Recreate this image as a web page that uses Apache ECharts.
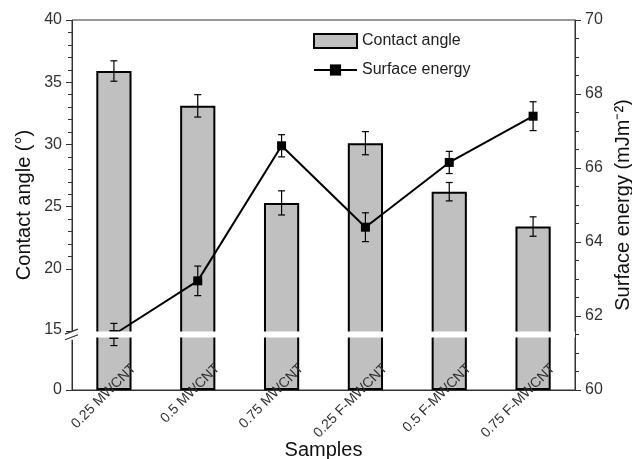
<!DOCTYPE html>
<html>
<head>
<meta charset="utf-8">
<script src="https://cdn.jsdelivr.net/npm/echarts@6/dist/echarts.min.js"></script>
<style>
  html, body { margin: 0; padding: 0; background: #fff; }
  #main { width: 632px; height: 459px; }
</style>
</head>
<body>
<div id="main"></div>
<script>
// samples on the x axis
var samples = ['0.25 MWCNT', '0.5 MWCNT', '0.75 MWCNT', '0.25 F-MWCNT', '0.5 F-MWCNT', '0.75 F-MWCNT'];
// contact angle (deg), left axis
var contactAngle = [35.9, 33.1, 25.3, 30.1, 26.2, 23.4];
var contactAngleErr = [0.82, 0.9, 0.97, 0.93, 0.74, 0.78];
// surface energy (mJ/m2), right axis
var surfaceEnergy = [61.5, 62.95, 66.6, 64.4, 66.15, 67.4];
var surfaceEnergyErr = [0.3, 0.4, 0.3, 0.39, 0.3, 0.39];
// tick labels shown on each axis
var leftTicks = [0, 15, 20, 25, 30, 35, 40];
var rightTicks = [60, 62, 64, 66, 68, 70];
// broken part of the left axis
var breakStart = 4.2, breakEnd = 15;

var FONT = '"Liberation Sans", Arial, sans-serif';
var GRID_LEFT = 72;

function errData(vals, errs) {
  return vals.map(function (v, i) { return [i, v - errs[i], v + errs[i]]; });
}

function errorBar(params, api) {
  var lo = api.coord([api.value(0), api.value(1)]);
  var hi = api.coord([api.value(0), api.value(2)]);
  var hw = 3.5;
  var st = { stroke: '#000', lineWidth: 1.2 };
  return {
    type: 'group',
    children: [
      { type: 'line', shape: { x1: lo[0], y1: lo[1], x2: hi[0], y2: hi[1] }, style: st },
      { type: 'line', shape: { x1: lo[0] - hw, y1: lo[1], x2: lo[0] + hw, y2: lo[1] }, style: st },
      { type: 'line', shape: { x1: hi[0] - hw, y1: hi[1], x2: hi[0] + hw, y2: hi[1] }, style: st }
    ]
  };
}

var myChart = echarts.init(document.getElementById('main'));

var option = {
  backgroundColor: '#fff',
  animation: false,
  textStyle: { fontFamily: FONT },
  grid: {
    left: GRID_LEFT, right: 57, top: 20, bottom: 69,
    outerBoundsMode: 'none',
    containLabel: false,
    show: true, borderColor: '#333', borderWidth: 1
  },
  legend: {
    orient: 'vertical',
    left: 313,
    top: 33,
    padding: 0,
    itemWidth: 43,
    itemHeight: 14,
    itemGap: 13,
    textStyle: { fontFamily: FONT, fontSize: 16, color: '#222' },
    data: [
      { name: 'Contact angle', icon: 'rect' },
      { name: 'Surface energy' }
    ]
  },
  xAxis: {
    type: 'category',
    data: samples,
    z: 10,
    name: 'Samples',
    nameLocation: 'middle',
    nameMoveOverlap: false,
    nameGap: 50,
    nameTextStyle: { fontFamily: FONT, fontSize: 20, color: '#111', verticalAlign: 'top' },
    axisLine: { lineStyle: { color: '#333', width: 1 } },
    axisTick: { show: false },
    axisLabel: {
      rotate: 45,
      align: 'right',
      margin: -4,
      padding: [0, -28, 0, 0],
      fontFamily: FONT,
      fontSize: 14,
      color: '#333'
    }
  },
  yAxis: [
    {
      type: 'value',
      min: 0,
      max: 40,
      interval: 5,
      breaks: [{ start: breakStart, end: breakEnd, gap: '1.8%' }],
      breakArea: {
        show: true,
        expandOnClick: false,
        zigzagAmplitude: 0,
        itemStyle: { color: '#fff', borderColor: 'rgba(0,0,0,0)', borderWidth: 0, opacity: 1 }
      },
      name: 'Contact angle (°)',
      nameLocation: 'middle',
      nameMoveOverlap: false,
      nameRotate: 90,
      nameGap: 38,
      nameTextStyle: { fontFamily: FONT, fontSize: 20, color: '#111' },
      axisLine: { show: true, lineStyle: { color: '#333', width: 1 } },
      axisTick: { show: true, length: 6, lineStyle: { color: '#333' } },
      minorTick: { show: true, splitNumber: 5, length: 4, lineStyle: { color: '#333' } },
      splitLine: { show: false },
      axisLabel: {
        fontFamily: FONT, fontSize: 16, color: '#333', margin: 10,
        formatter: function (v) { return leftTicks.indexOf(Math.round(v * 100) / 100) >= 0 ? String(v) : ''; }
      }
    },
    {
      type: 'value',
      min: 60,
      max: 70,
      interval: 2,
      position: 'right',
      name: 'Surface energy (mJm⁻²)',
      nameLocation: 'middle',
      nameMoveOverlap: false,
      nameRotate: 90,
      nameGap: 38,
      nameTextStyle: { fontFamily: FONT, fontSize: 20, color: '#111' },
      axisLine: { show: true, lineStyle: { color: '#333', width: 1 } },
      axisTick: { show: true, length: 6, lineStyle: { color: '#333' } },
      minorTick: { show: true, splitNumber: 4, length: 4, lineStyle: { color: '#333' } },
      splitLine: { show: false },
      axisLabel: {
        fontFamily: FONT, fontSize: 16, color: '#333', margin: 10,
        formatter: function (v) { return rightTicks.indexOf(v) >= 0 ? String(v) : ''; }
      }
    }
  ],
  series: [
    {
      name: 'Contact angle',
      type: 'bar',
      yAxisIndex: 0,
      barWidth: '42%',
      data: contactAngle,
      itemStyle: { color: '#c0c0c0', borderColor: '#000', borderWidth: 2 },
      z: 2
    },
    {
      name: 'Contact angle err',
      type: 'custom',
      yAxisIndex: 0,
      renderItem: errorBar,
      data: errData(contactAngle, contactAngleErr),
      z: 20
    },
    {
      name: 'Surface energy',
      type: 'line',
      yAxisIndex: 1,
      data: surfaceEnergy,
      symbol: 'rect',
      symbolSize: 9,
      lineStyle: { color: '#000', width: 2 },
      itemStyle: { color: '#000' },
      z: 30
    },
    {
      name: 'Surface energy err',
      type: 'custom',
      yAxisIndex: 1,
      renderItem: errorBar,
      data: errData(surfaceEnergy, surfaceEnergyErr),
      z: 25
    }
  ]
};

myChart.setOption(option);

// "//" break mark on the left axis, placed from the axis scale
var yTop = myChart.convertToPixel({ yAxisIndex: 0 }, breakEnd);
var yBot = myChart.convertToPixel({ yAxisIndex: 0 }, breakStart);
var x0 = GRID_LEFT;
myChart.setOption({
  graphic: [
    { type: 'rect', shape: { x: x0 - 9, y: yTop + 1, width: 11, height: yBot - yTop + 1 }, style: { fill: '#fff' }, z: 100 },
    { type: 'line', shape: { x1: x0 - 7, y1: yTop + 3, x2: x0 + 6, y2: yTop - 2 }, style: { stroke: '#333', lineWidth: 1.2 }, z: 101 },
    { type: 'line', shape: { x1: x0 - 7, y1: yBot + 2, x2: x0 + 6, y2: yBot - 3 }, style: { stroke: '#333', lineWidth: 1.2 }, z: 101 }
  ]
});
</script>
</body>
</html>
